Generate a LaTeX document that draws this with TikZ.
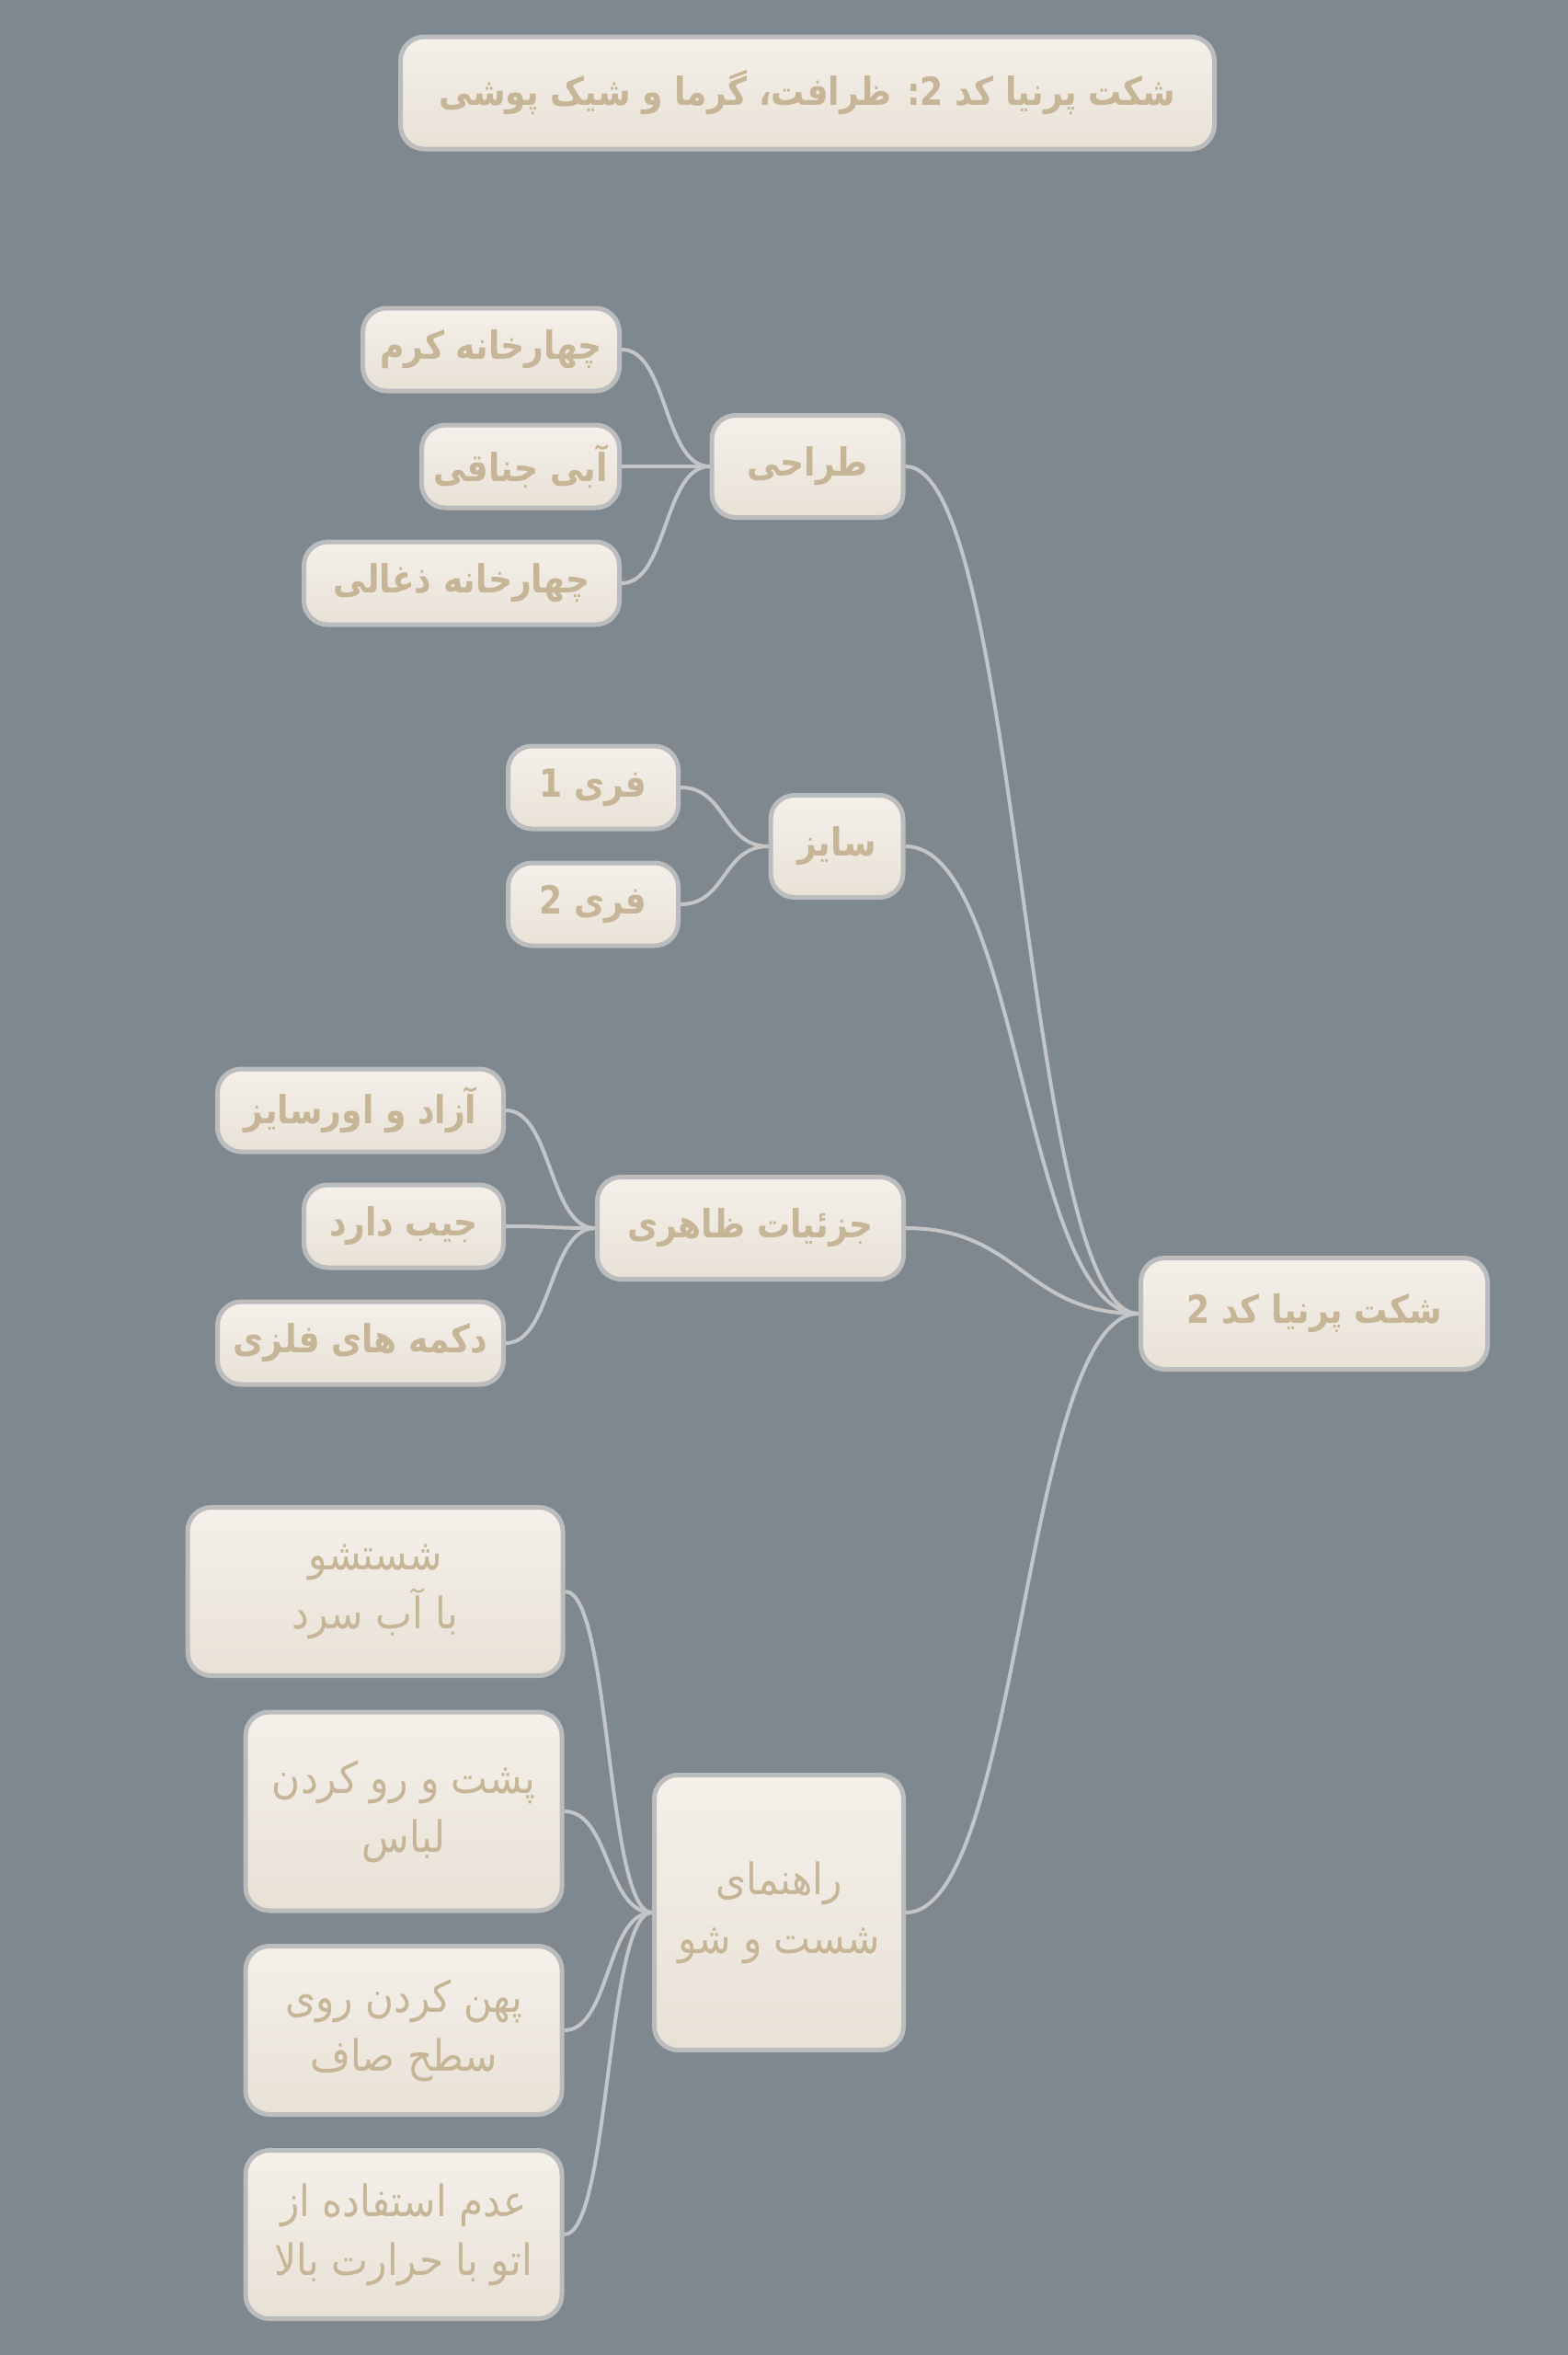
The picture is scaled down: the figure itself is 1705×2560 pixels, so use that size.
\documentclass[tikz,border=0pt]{standalone}
\usepackage{fontspec}
\newfontfamily\fa[Script=Arabic, FakeStretch=0.86]{DejaVu Sans}
\newfontfamily\fareg[Script=Arabic, FakeStretch=0.9]{DejaVu Sans}
\TeXXeTstate=1
\newcommand{\rtl}[1]{\beginR #1\endR}
\definecolor{bg}{HTML}{7F878F}
\definecolor{boxtop}{HTML}{F4F0EA}
\definecolor{boxbot}{HTML}{E8E1D6}
\definecolor{boxline}{HTML}{BBBCBD}
\definecolor{txt}{HTML}{C6B596}
\definecolor{conn}{HTML}{C3C5C7}
\tikzset{
  box/.style={draw=boxline, line width=5pt, rounded corners=26pt,
    top color=boxtop, bottom color=boxbot, text=txt, inner sep=0pt,
    align=center, font=\fa\bfseries\fontsize{42}{64}\selectfont},
  boxreg/.style={box, font=\fareg\fontsize{47}{64}\selectfont},
  link/.style={draw=conn, line width=4pt}
}
\begin{document}
\begin{tikzpicture}[x=1pt,y=-1pt]
\fill[bg] (0,0) rectangle (1705,2560);
\useasboundingbox (0,0) rectangle (1705,2560);
% title
\node[box, minimum width=885, minimum height=122] (title) at (878,101) {\rtl{شکت پرنیا کد 2: ظرافت، گرما و شیک پوشی}};
% root
\node[box, minimum width=377, minimum height=121] (root) at (1429,1428) {\rtl{شکت پرنیا کد 2}};
% main branches
\node[box, minimum width=208, minimum height=111] (d) at (878,507) {\rtl{طراحی}};
\node[box, minimum width=144, minimum height=111] (s) at (910,920) {\rtl{سایز}};
\node[box, minimum width=333, minimum height=111] (j) at (816,1335) {\rtl{جزئیات ظاهری}};
\node[boxreg, minimum width=271, minimum height=299] (r) at (847,2079) {\rtl{راهنمای}\\\rtl{شست و شو}};
% leaves of design
\node[box, minimum width=279, minimum height=90] (d1) at (534,380) {\rtl{چهارخانه کرم}};
\node[box, minimum width=215, minimum height=90] (d2) at (566,507) {\rtl{آبی جناقی}};
\node[box, minimum width=343, minimum height=90] (d3) at (502,634) {\rtl{چهارخانه ذغالی}};
% leaves of size
\node[box, minimum width=185, minimum height=90] (s1) at (645,856) {\rtl{فری 1}};
\node[box, minimum width=185, minimum height=90] (s2) at (645,983) {\rtl{فری 2}};
% leaves of details
\node[box, minimum width=311, minimum height=90] (j1) at (392,1207) {\rtl{آزاد و اورسایز}};
\node[box, minimum width=217, minimum height=90] (j2) at (439,1333) {\rtl{جیب دارد}};
\node[box, minimum width=311, minimum height=90] (j3) at (392,1460) {\rtl{دکمه های فلزی}};
% leaves of wash guide
\node[boxreg, minimum width=408, minimum height=183] (r1) at (408,1730) {\rtl{شستشو}\\\rtl{با آب سرد}};
\node[boxreg, minimum width=344, minimum height=216] (r2) at (439,1969) {\rtl{پشت و رو کردن}\\\rtl{لباس}};
\node[boxreg, minimum width=344, minimum height=183] (r3) at (439,2207) {\rtl{پهن کردن روی}\\\rtl{سطح صاف}};
\node[boxreg, minimum width=344, minimum height=183] (r4) at (439,2429) {\rtl{عدم استفاده از}\\\rtl{اتو با حرارت بالا}};
% connectors root
\foreach \n in {d,s,j,r}
  \draw[link] (\n.east) .. controls +(125,0) and +(-125,0) .. (root.west);
% connectors leaves
\foreach \n in {d1,d2,d3}
  \draw[link] (\n.east) .. controls +(50,0) and +(-50,0) .. (d.west);
\foreach \n in {s1,s2}
  \draw[link] (\n.east) .. controls +(50,0) and +(-50,0) .. (s.west);
\foreach \n in {j1,j2,j3}
  \draw[link] (\n.east) .. controls +(50,0) and +(-50,0) .. (j.west);
\foreach \n in {r1,r2,r3,r4}
  \draw[link] (\n.east) .. controls +(50,0) and +(-50,0) .. (r.west);
\end{tikzpicture}
\end{document}
